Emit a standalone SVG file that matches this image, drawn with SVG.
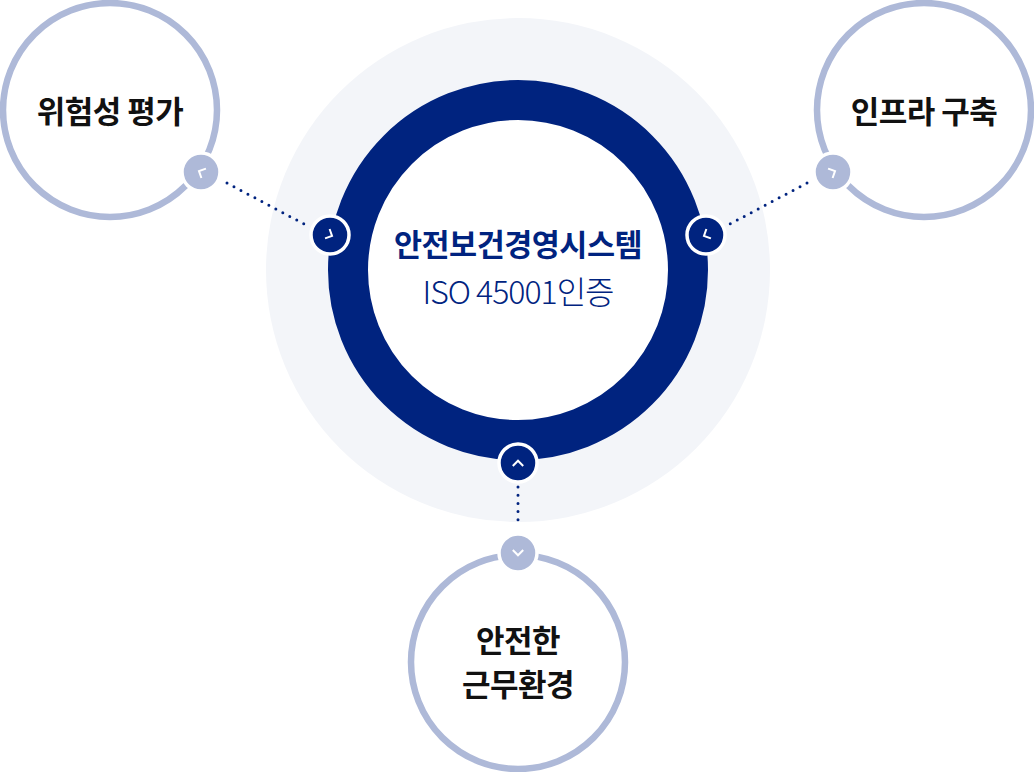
<svg xmlns="http://www.w3.org/2000/svg" width="1034" height="772" viewBox="0 0 1034 772">
<style>
.ring{fill:#fff;stroke:#aeb9d8;stroke-width:6.5}
.lbl{font-family:"Noto Sans CJK KR","Noto Sans",sans-serif;font-weight:700;font-size:31px;fill:#111;text-anchor:middle;letter-spacing:-0.5px}
.dot{fill:none;stroke:#00237f;stroke-width:3;stroke-linecap:round}
.bn{fill:#00237f;stroke:#fff;stroke-width:3.5}
.bl{fill:#aeb9d8;stroke:#fff;stroke-width:3.5}
.chev{fill:none;stroke:#fff;stroke-width:2;stroke-linecap:square}
</style>
<defs>
<path id="ch" d="M -4.5 2.25 L 0 -2.25 L 4.5 2.25"/>
</defs>
<rect width="1034" height="772" fill="#fff"/>
<g id="center">
<circle cx="518" cy="270" r="252" fill="#f3f5f9"/>
<circle cx="518" cy="270" r="170" fill="#fff" stroke="#00237f" stroke-width="40"/>
<text x="518" y="256" font-family="'Noto Sans CJK KR','Noto Sans',sans-serif" font-weight="700" font-size="30.5" fill="#00237f" text-anchor="middle" letter-spacing="-0.5">안전보건경영시스템</text>
<text x="518" y="304" font-family="'Noto Sans CJK KR','Noto Sans',sans-serif" font-weight="300" font-size="32" fill="#00237f" text-anchor="middle" letter-spacing="-1">ISO 45001인증</text>
</g>
<g id="node-risk">
<circle class="ring" cx="110" cy="110" r="107"/>
<text class="lbl" x="110" y="123">위험성 평가</text>
</g>
<g id="node-infra">
<circle class="ring" cx="924" cy="110" r="107"/>
<text class="lbl" x="924" y="123">인프라 구축</text>
</g>
<g id="node-env">
<circle class="ring" cx="518" cy="662" r="107"/>
<text class="lbl" x="518" y="652">안전한</text>
<text class="lbl" x="518" y="696">근무환경</text>
</g>
<g id="connectors">
<path class="dot" d="M 227 183 L 306 225" stroke-dasharray="0 7.9"/>
<path class="dot" d="M 807 183 L 728 225" stroke-dasharray="0 7.9"/>
<path class="dot" d="M 518 487 L 518 528" stroke-dasharray="0 8.2"/>
<circle class="bl" cx="201" cy="172" r="19"/>
<use href="#ch" class="chev" transform="translate(201 172) rotate(-64)"/>
<circle class="bn" cx="330" cy="235" r="19"/>
<use href="#ch" class="chev" transform="translate(330 235) rotate(116)"/>
<circle class="bl" cx="833" cy="172" r="19"/>
<use href="#ch" class="chev" transform="translate(833 172) rotate(64)"/>
<circle class="bn" cx="706" cy="235" r="19"/>
<use href="#ch" class="chev" transform="translate(706 235) rotate(-116)"/>
<circle class="bn" cx="518" cy="463" r="19"/>
<use href="#ch" class="chev" transform="translate(518 463)"/>
<circle class="bl" cx="518" cy="553" r="19"/>
<use href="#ch" class="chev" transform="translate(518 553) rotate(180)"/>
</g>
</svg>
